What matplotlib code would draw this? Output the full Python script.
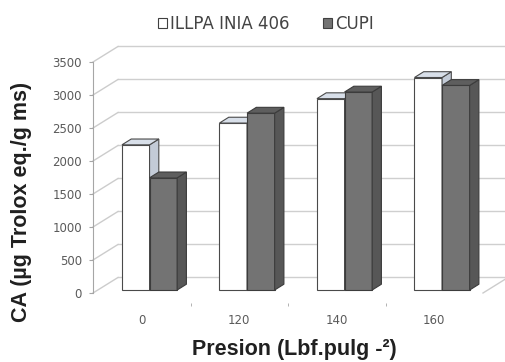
import matplotlib
matplotlib.use("Agg")
import matplotlib.pyplot as plt
from matplotlib.patches import Polygon, Patch

# Data
categories = ["0", "120", "140", "160"]
series_names = ["ILLPA INIA 406", "CUPI"]
illpa = [2200, 2530, 2900, 3220]
cupi = [1700, 2680, 3000, 3100]
y_ticks = [0, 500, 1000, 1500, 2000, 2500, 3000, 3500]

W, H, DPI = 505, 362, 100
fig = plt.figure(figsize=(W / DPI, H / DPI), dpi=DPI)
fig.patch.set_facecolor("white")
ax = fig.add_axes([93 / W, 1 - 293 / H, 390 / W, 231 / H])
ax.set_xlim(0, len(categories))
ax.set_ylim(y_ticks[0], y_ticks[-1])
ax.patch.set_alpha(0)

# pseudo-3D geometry (data units)
WALL_DX, WALL_DY = 0.256, 235      # depth of the back wall
COL_DX, COL_DY = 0.095, 88         # depth of each column
COL_X0, COL_W, COL_BASE = 0.297, 0.283, 45

EDGE = "#3c3c3c"
STYLES = [
    dict(front="#ffffff", top="#d8dfe9", side="#c3cbd7", edge="#4a4a4a"),
    dict(front="#737373", top="#5e5e5e", side="#575757", edge=EDGE),
]

# back wall gridlines, side-wall diagonals
for v in y_ticks:
    ax.plot([WALL_DX, len(categories) + WALL_DX], [v + WALL_DY, v + WALL_DY],
            color="#cfcfcf", lw=1.0, clip_on=False, zorder=1)
    ax.plot([0, WALL_DX], [v, v + WALL_DY], color="#cccccc", lw=1.0,
            clip_on=False, zorder=1)
ax.plot([len(categories), len(categories) + WALL_DX], [0, WALL_DY],
        color="#cccccc", lw=1.0, clip_on=False, zorder=1)


def column(x_left, val, st, z):
    ax.bar(x_left, val, width=COL_W, bottom=COL_BASE, align="edge",
           color=st["front"], edgecolor=st["edge"], lw=0.8, zorder=z)
    yt = COL_BASE + val
    x_r = x_left + COL_W
    top = [(x_left, yt), (x_r, yt), (x_r + COL_DX, yt + COL_DY),
           (x_left + COL_DX, yt + COL_DY)]
    side = [(x_r, COL_BASE), (x_r + COL_DX, COL_BASE + COL_DY),
            (x_r + COL_DX, yt + COL_DY), (x_r, yt)]
    ax.add_patch(Polygon(side, closed=True, facecolor=st["side"],
                         edgecolor=st["edge"], lw=0.8, zorder=z, clip_on=False))
    ax.add_patch(Polygon(top, closed=True, facecolor=st["top"],
                         edgecolor=st["edge"], lw=0.8, zorder=z, clip_on=False))


z = 3
for i in range(len(categories)):
    for k, vals in enumerate([illpa, cupi]):
        column(i + COL_X0 + k * COL_W, vals[i], STYLES[k], z)
        z += 1

# axes styling
for s in ["top", "right"]:
    ax.spines[s].set_visible(False)
ax.spines["left"].set_color("#a6a6a6")
ax.spines["bottom"].set_position(("outward", 7))
ax.spines["bottom"].set_visible(False)

ax.set_yticks(y_ticks)
ax.set_yticklabels([str(v) for v in y_ticks], fontfamily="DejaVu Sans")
ax.tick_params(axis="y", direction="out", length=3, color="#a6a6a6",
               labelcolor="#5a5a5a", labelsize=8.5, pad=5)

ax.set_xticks([i + 0.5 for i in range(len(categories))])
ax.set_xticklabels(categories, fontfamily="DejaVu Sans")
ax.set_xticks(list(range(1, len(categories))), minor=True)
ax.tick_params(axis="x", which="major", length=0, labelcolor="#5a5a5a",
               labelsize=8.5, pad=8)
ax.tick_params(axis="x", which="minor", direction="out", length=2.5,
               color="#a6a6a6")

fig.text(22 / W, 1 - 202 / H, "CA (µg Trolox eq./g ms)", rotation=90,
         ha="center", va="center", fontsize=15.5, fontweight="bold",
         family="Liberation Sans", color="#202020")
fig.text(294 / W, 1 - 350 / H, "Presion (Lbf.pulg -²)", ha="center",
         va="center", fontsize=15.5, fontweight="bold",
         family="Liberation Sans", color="#202020")

handles = [Patch(facecolor=STYLES[0]["front"], edgecolor="#404040", lw=0.8),
           Patch(facecolor=STYLES[1]["front"], edgecolor="#404040", lw=0.8)]
fig.legend(handles, series_names, loc="center",
           bbox_to_anchor=(266 / W, 1 - 24 / H), ncol=2, frameon=False,
           handlelength=0.55, handleheight=0.55, handletextpad=0.2,
           columnspacing=2.0, prop={"family": "DejaVu Sans", "size": 12},
           labelcolor="#444444")

fig.savefig("out.png", dpi=DPI)
